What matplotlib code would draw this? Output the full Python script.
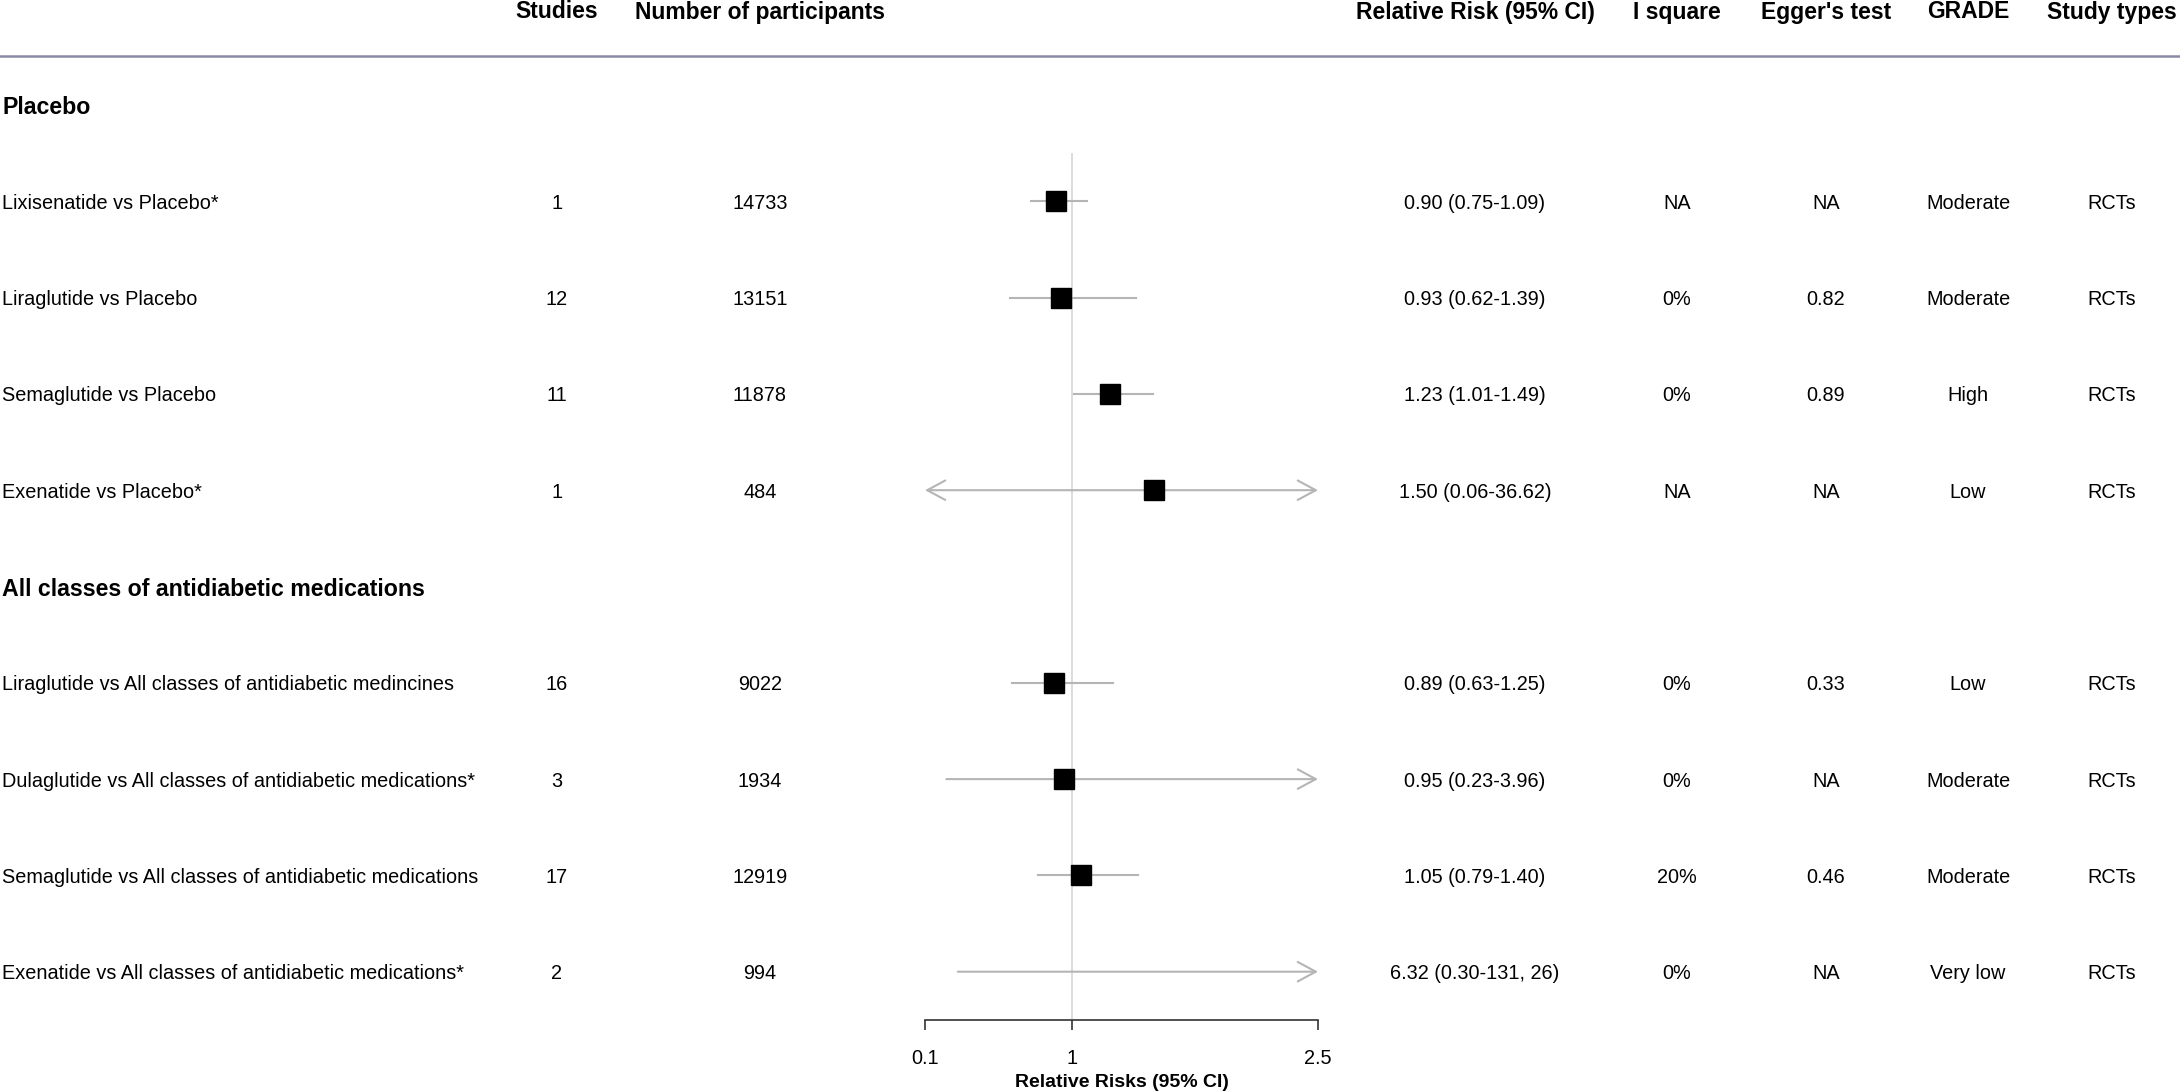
import matplotlib
matplotlib.use("Agg")
import matplotlib.pyplot as plt
import matplotlib.transforms as mtransforms

plt.rcParams["font.family"] = ["Liberation Sans", "DejaVu Sans"]

# ── data ─────────────────────────────────────────────────────────────────────
groups = ["Placebo", "All classes of antidiabetic medications"]
comparisons = [
    "Lixisenatide vs Placebo*",
    "Liraglutide vs Placebo",
    "Semaglutide vs Placebo",
    "Exenatide vs Placebo*",
    "Liraglutide vs All classes of antidiabetic medincines",
    "Dulaglutide vs All classes of antidiabetic medications*",
    "Semaglutide vs All classes of antidiabetic medications",
    "Exenatide vs All classes of antidiabetic medications*",
]
group_of = [0, 0, 0, 0, 1, 1, 1, 1]
studies = [1, 12, 11, 1, 16, 3, 17, 2]
participants = [14733, 13151, 11878, 484, 9022, 1934, 12919, 994]
rr = [0.90, 0.93, 1.23, 1.50, 0.89, 0.95, 1.05, 6.32]
rr_lo = [0.75, 0.62, 1.01, 0.06, 0.63, 0.23, 0.79, 0.30]
rr_hi = [1.09, 1.39, 1.49, 36.62, 1.25, 3.96, 1.40, 131.26]
rr_text = [
    "0.90 (0.75-1.09)", "0.93 (0.62-1.39)", "1.23 (1.01-1.49)",
    "1.50 (0.06-36.62)", "0.89 (0.63-1.25)", "0.95 (0.23-3.96)",
    "1.05 (0.79-1.40)", "6.32 (0.30-131, 26)",
]
i_square = ["NA", "0%", "0%", "NA", "0%", "0%", "20%", "0%"]
egger = ["NA", "0.82", "0.89", "NA", "0.33", "NA", "0.46", "NA"]
grade = ["Moderate", "Moderate", "High", "Low", "Low", "Moderate", "Moderate", "Very low"]
study_types = ["RCTs"] * 8

headers = ["Studies", "Number of participants", "Relative Risk (95% CI)",
           "I square", "Egger's test", "GRADE", "Study types"]

xticks = [0.1, 1, 2.5]
XMIN, XMAX = 0.1, 2.5

# ── layout ───────────────────────────────────────────────────────────────────
W, H = 2180, 1092
fig = plt.figure(figsize=(W / 100, H / 100), dpi=100)
fig.patch.set_facecolor("white")

ROW0, STEP = 105, 96.3          # pixel y of first group title, row spacing
n_lines = len(comparisons) + len(groups)
top_px = ROW0 + STEP * 0.5
bot_px = ROW0 + STEP * (n_lines - 0.5)
ax_l, ax_r = 925, 1318
ax = fig.add_axes([ax_l / W, 1 - bot_px / H, (ax_r - ax_l) / W, (bot_px - top_px) / H])
ax.set_xlim(XMIN, XMAX)
ax.set_ylim(n_lines - 0.5, 0.5)

# line index for each comparison / group title
line_idx, group_idx = [], []
k = 0
for g in range(len(groups)):
    group_idx.append(k)
    k += 1
    for i, gi in enumerate(group_of):
        if gi == g:
            line_idx.append(k)
            k += 1

trans = mtransforms.blended_transform_factory(fig.transFigure, ax.transData)

def fx(px):
    return px / W

col_x = [557, 760, 1475, 1677, 1826, 1968, 2112]
FS = 14.3
HFS = 16.5

# header row
hy = (12 - ROW0) / STEP
for x, h in zip(col_x, headers):
    ax.text(fx(x), hy, h, transform=trans, ha="center", va="center",
            fontsize=HFS, fontweight="bold", clip_on=False)
ly = (56 - ROW0) / STEP
ax.plot([0, 1], [ly, ly], transform=trans, color="#8a8aa6", lw=1.8, clip_on=False)

for g, name in enumerate(groups):
    ax.text(fx(2), group_idx[g], name, transform=trans, ha="left", va="center_baseline",
            fontsize=16.7, fontweight="bold", clip_on=False)

for i, y in enumerate(line_idx):
    ax.text(fx(2), y, comparisons[i], transform=trans, ha="left", va="center_baseline",
            fontsize=FS, clip_on=False)
    cols = [str(studies[i]), str(participants[i]), rr_text[i], i_square[i],
            egger[i], grade[i], study_types[i]]
    for x, c in zip(col_x, cols):
        ax.text(fx(x), y, c, transform=trans, ha="center", va="center_baseline",
                fontsize=FS, clip_on=False)

# ── forest marks ─────────────────────────────────────────────────────────────
ax.axvline(1, color="#d9d9d9", lw=1.3, zorder=1)
CI_COL = "#b5b5b5"
for i, y in enumerate(line_idx):
    lo, hi = rr_lo[i], rr_hi[i]
    lo_c, hi_c = max(lo, XMIN), min(hi, XMAX)
    left_arr, right_arr = lo < XMIN, hi > XMAX
    if left_arr or right_arr:
        style = "<->" if (left_arr and right_arr) else ("->" if right_arr else "<-")
        ax.annotate("", xy=(hi_c, y), xytext=(lo_c, y),
                    arrowprops=dict(arrowstyle=style + ",head_length=1.3,head_width=0.7",
                                    color=CI_COL, lw=1.5, shrinkA=0, shrinkB=0,
                                    mutation_scale=10), zorder=2)
    else:
        ax.plot([lo_c, hi_c], [y, y], color=CI_COL, lw=1.5, zorder=2)
    if XMIN <= rr[i] <= XMAX:
        ax.plot(rr[i], y, marker="s", color="black", markersize=15, zorder=3)

# ── axis ─────────────────────────────────────────────────────────────────────
for s in ["top", "right", "left"]:
    ax.spines[s].set_visible(False)
ax.spines["bottom"].set_bounds(XMIN, XMAX)
ax.spines["bottom"].set_color("#333333")
ax.spines["bottom"].set_linewidth(1.2)
ax.set_yticks([])
ax.set_xticks(xticks)
ax.set_xticklabels(["0.1", "1", "2.5"])
ax.tick_params(axis="x", length=7, width=1.2, color="#333333", labelsize=FS, pad=14)
ax.set_xlabel("Relative Risks (95% CI)", fontsize=14, fontweight="bold", labelpad=4)
ax.patch.set_alpha(0)

fig.savefig("out.png", dpi=100, facecolor="white")
